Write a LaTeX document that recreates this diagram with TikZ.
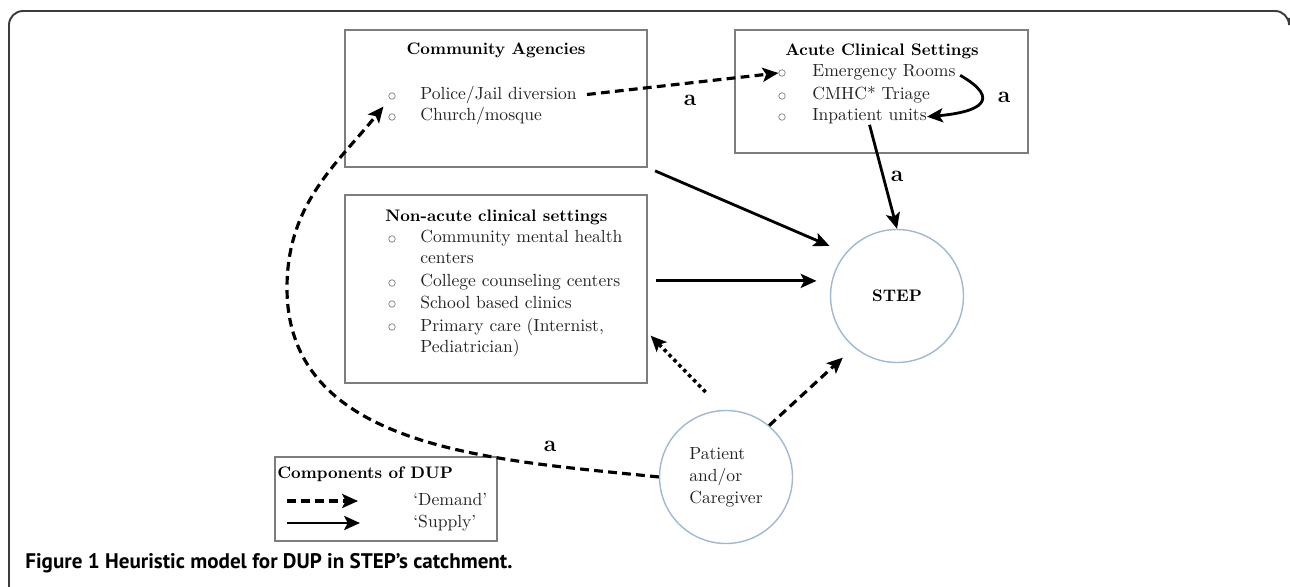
\documentclass[tikz,border=0pt]{standalone}
\usepackage{fontspec}
\newfontfamily\capfont{PT Sans}
\usetikzlibrary{arrows.meta,positioning}
\definecolor{framegray}{RGB}{60,60,60}
\definecolor{boxgray}{RGB}{125,125,125}
\definecolor{ringblue}{RGB}{160,184,212}
\definecolor{textgray}{RGB}{35,35,35}
\tikzset{
  txt/.style={font=\fontsize{10}{12.5}\selectfont,inner sep=0,text=textgray},
  ttl/.style={inner sep=0,font=\fontsize{9.5}{12.5}\selectfont\bfseries},
  box/.style={draw=boxgray,line width=0.8pt},
  ring/.style={draw=ringblue,line width=0.8pt,circle,minimum size=2.66cm},
  bul/.style={draw=gray,circle,minimum size=0.13cm,inner sep=0},
  tip/.style={-{Stealth[length=9pt,width=8pt,inset=2pt]}},
  supply/.style={tip,line width=1.6pt},
  demand/.style={tip,line width=1.8pt,dash pattern=on 5pt off 3pt},
  dotty/.style={tip,line width=2pt,dash pattern=on 2pt off 2pt},
  lbl/.style={font=\fontsize{13}{14}\selectfont\bfseries,inner sep=0}
}
\begin{document}
\begin{tikzpicture}[x=0.02cm,y=0.02cm]
\useasboundingbox (0,0) rectangle (1290,-587);
\draw[framegray,line width=1.1pt,rounded corners=0.28cm] (9,-587) -- (9,-11) -- (1289,-11) -- (1289,-18);
% boxes
\node[box,minimum width=6.04cm,minimum height=2.74cm] (ca) at (496,-98.5) {};
\node[box,minimum width=5.86cm,minimum height=2.46cm] (acs) at (881.5,-91.5) {};
\node[box,minimum width=6.04cm,minimum height=3.76cm] (nac) at (496,-289) {};
\node[box,minimum width=4.44cm,minimum height=1.68cm] (leg) at (386,-499) {};
\node[ring,font=\fontsize{9.5}{12.5}\selectfont\bfseries] (step) at (897,-296) {STEP};
\node[ring,txt,inner sep=2pt,align=left] (pat) at (726,-477) {Patient\\and/or\\Caregiver};
% community agencies
\node[ttl,anchor=base] (cat) at (496,-55) {Community Agencies};
\node[bul] (b1) at (392,-96) {};
\node[txt,anchor=base west] (pol) at (420,-100) {Police/Jail diversion};
\node[bul] (b2) at (392,-117) {};
\node[txt,anchor=base west] (chu) at (420,-121) {Church/mosque};
% acute
\node[ttl,anchor=base] (acst) at (882,-56) {Acute Clinical Settings};
\node[bul] (eb1) at (782,-73) {};
\node[txt,anchor=base west] (er) at (812,-77) {Emergency Rooms};
\node[bul] (eb2) at (782,-96) {};
\node[txt,anchor=base west] (cm) at (812,-100) {CMHC* Triage};
\node[bul] (eb3) at (782,-117) {};
\node[txt,anchor=base west] (ip) at (812,-121) {Inpatient units};
% non-acute
\node[ttl,anchor=base west] (nact) at (385,-222) {Non-acute clinical settings};
\node[bul] (nb1) at (392,-239) {};
\node[txt,anchor=base west] (cmh) at (420,-243) {Community mental health};
\node[txt,anchor=base west] (cmh2) at (420,-264) {centers};
\node[bul] (nb2) at (392,-283) {};
\node[txt,anchor=base west] (ccc) at (420,-287) {College counseling centers};
\node[bul] (nb3) at (392,-304) {};
\node[txt,anchor=base west] (sbc) at (420,-308) {School based clinics};
\node[bul] (nb4) at (392,-327) {};
\node[txt,anchor=base west] (pc) at (420,-331) {Primary care (Internist,};
\node[txt,anchor=base west] (pc2) at (420,-352) {Pediatrician)};
% legend
\node[ttl,anchor=base west] (legt) at (277,-478) {Components of DUP};
\node[txt,anchor=base west] (dem) at (413,-505) {‘Demand’};
\node[txt,anchor=base west] (sup) at (413,-527) {‘Supply’};
\coordinate (l1) at (287,-501);
\coordinate (l2) at (358,-501);
\coordinate (l3) at (287,-523);
\coordinate (l4) at (360,-523);
\draw[demand] (l1) -- (l2);
\draw[supply] (l3) -- (l4);
% arrows
\coordinate (lm) at (287,-288);
\draw[demand,shorten <=0.2cm] (pol.east) -- (eb1.west);
\draw[supply,shorten <=0.1cm] (er.east) to[out=-30,in=5,looseness=2.6] (ip.east);
\draw[supply] (ip.south) -- (step.north);
\draw[supply,shorten <=0.16cm,shorten >=0.35cm] (ca.south east) -- (step.140);
\draw[supply,shorten <=0.16cm,shorten >=0.3cm] (nac.east |- step.167) -- (step.167);
\draw[dotty] ([shift={(8,24)}]pat.115) -- ([shift={(3,48)}]nac.south east);
\draw[demand,shorten >=0.3cm] (pat.50) -- (step.230);
\draw[demand,shorten >=0.2cm] (pat.west) to[out=174,in=-90] (lm) to[out=90,in=231] (b1);
\node[lbl] (a1) at (690,-100) {a};
\node[lbl] (a2) at (1004,-97) {a};
\node[lbl] (a3) at (897,-176) {a};
\node[lbl] (a4) at (550,-446) {a};
% caption
\node[anchor=base west,inner sep=0,font=\capfont\fontsize{12}{14}\selectfont\bfseries] (cap) at (25,-568) {Figure 1 Heuristic model for DUP in STEP’s catchment.};
\end{tikzpicture}
\end{document}
